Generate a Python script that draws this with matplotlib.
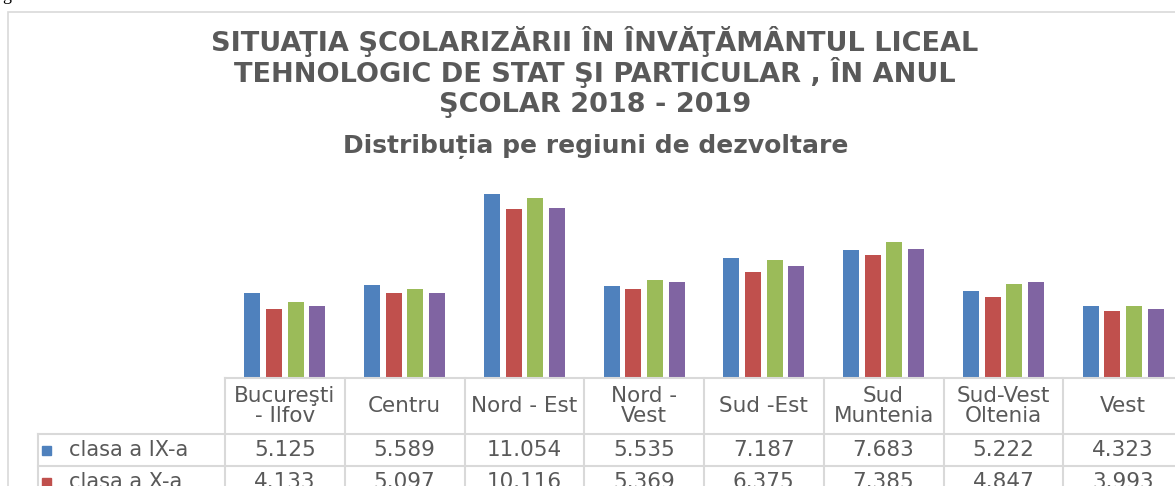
import matplotlib.pyplot as plt
import matplotlib.transforms as mtransforms
from matplotlib.patches import Rectangle
from matplotlib.lines import Line2D

# regions (table header text, with line breaks as in the chart)
regions = ["Bucureşti\n- Ilfov", "Centru", "Nord - Est", "Nord -\nVest",
           "Sud -Est", "Sud\nMuntenia", "Sud-Vest\nOltenia", "Vest"]
series_names = ["clasa a IX-a", "clasa a X-a", "clasa a XI-a", "clasa a XII-a"]
clasa_9 = [5125, 5589, 11054, 5535, 7187, 7683, 5222, 4323]
clasa_10 = [4133, 5097, 10116, 5369, 6375, 7385, 4847, 3993]
clasa_11 = [4580, 5320, 10810, 5900, 7060, 8170, 5650, 4300]
clasa_12 = [4300, 5080, 10210, 5770, 6730, 7710, 5770, 4160]
colors = ["#4F81BD", "#C0504D", "#9BBB59", "#8064A2"]

all_series = [clasa_9, clasa_10, clasa_11, clasa_12]

W, H = 1175, 486
fig = plt.figure(figsize=(W / 100, H / 100), dpi=100)
plt.rcParams['font.family'] = ['DejaVu Sans']
txt_col = "#595959"
grid_col = "#d9d9d9"

# outer chart frame (runs off the right / bottom edges)
fig.patches.append(Rectangle((8 / W, -0.1), 1.2, 1 - 12 / H + 0.1, transform=fig.transFigure,
                             fill=False, edgecolor=grid_col, lw=1.2))
# stray glyph of the page text above the chart
fig.text(2 / W, 1 - 0.5 / H, "g", family="Liberation Serif", fontsize=13, color="black",
         va="baseline", ha="left")

# titles
title_lines = ["SITUAŢIA ŞCOLARIZĂRII ÎN ÎNVĂŢĂMÂNTUL LICEAL",
               "TEHNOLOGIC DE STAT ŞI PARTICULAR , ÎN ANUL",
               "ŞCOLAR 2018 - 2019"]
for i, line in enumerate(title_lines):
    fig.text(595 / W, 1 - (51 + 30.5 * i) / H, line, ha="center", va="baseline",
             fontsize=19.5, fontweight="bold", color=txt_col)
fig.text(596 / W, 1 - 153 / H, "Distribuția pe regiuni de dezvoltare", ha="center",
         va="baseline", fontsize=18, fontweight="bold", color=txt_col)

# plot area
ax_left, ax_right, ax_bot, ax_top = 225, 1183, 378, 178
ax = fig.add_axes([ax_left / W, 1 - ax_bot / H, (ax_right - ax_left) / W, (ax_bot - ax_top) / H])
n = len(regions)
step = 0.181
bw = 0.134
for k, vals in enumerate(all_series):
    xs = [i + 0.5 + (k - 1.5) * step for i in range(n)]
    ax.bar(xs, vals, width=bw, color=colors[k], label=series_names[k])
ax.set_xlim(0, n)
ax.set_ylim(0, 12000)
ax.axis("off")

# data table under the plot
tr = mtransforms.blended_transform_factory(ax.transData, ax.transAxes)
px = 1.0 / (ax_bot - ax_top)          # one pixel in axes fraction
cw = (ax_right - ax_left) / n         # pixels per category
head_h = 56 * px
row_h = 32 * px
lab_left = -(ax_left - 38) / cw
lw = 1.5
n_rows = len(all_series)
bottom = -head_h - n_rows * row_h

def hline(x0, x1, y):
    ax.add_line(Line2D([x0, x1], [y, y], transform=tr, color=grid_col, lw=lw, clip_on=False))

def vline(x, y0, y1):
    ax.add_line(Line2D([x, x], [y0, y1], transform=tr, color=grid_col, lw=lw, clip_on=False))

hline(0, n, 0)
hline(lab_left, n, -head_h)
for r in range(1, n_rows + 1):
    hline(lab_left, n, -head_h - r * row_h)
for c in range(n + 1):
    vline(c, 0, bottom)
vline(lab_left, -head_h, bottom)

for c, name in enumerate(regions):
    ax.text(c + 0.5, -head_h / 2, name, transform=tr, ha="center", va="center",
            fontsize=15.5, color=txt_col, linespacing=1.05, clip_on=False)

for r, vals in enumerate(all_series):
    yc = -head_h - (r + 0.5) * row_h
    ax.add_patch(Rectangle((lab_left + 4 / cw, yc - 4.5 * px), 9 / cw, 9 * px,
                           transform=tr, color=colors[r], clip_on=False))
    ax.text(lab_left + 31 / cw, yc, series_names[r], transform=tr,
            ha="left", va="center", fontsize=15, color=txt_col, clip_on=False)
    for c, v in enumerate(vals):
        ax.text(c + 0.5, yc, f"{v:,}".replace(",", "."), transform=tr, ha="center",
                va="center", fontsize=15.5, color=txt_col, clip_on=False)

fig.savefig("out.png", dpi=100)
